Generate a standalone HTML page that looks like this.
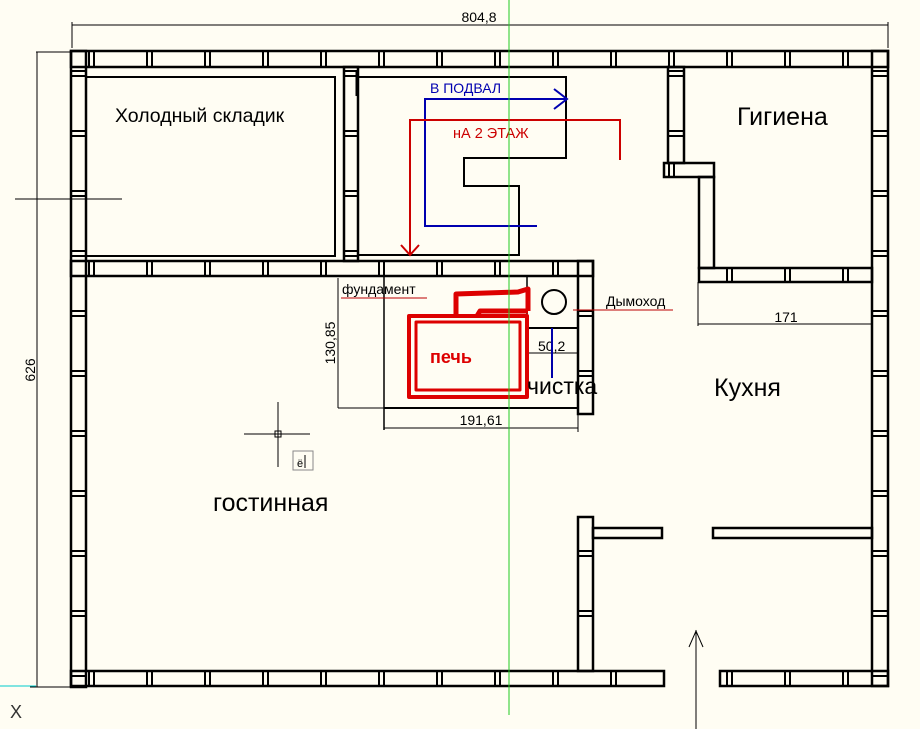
<!DOCTYPE html>
<html><head><meta charset="utf-8"><style>
html,body{margin:0;padding:0;background:#fffdf3;}
svg{display:block;}
text{font-family:"Liberation Sans",sans-serif;}
</style></head><body>
<svg width="920" height="729" viewBox="0 0 920 729" xmlns="http://www.w3.org/2000/svg">
<defs>
<pattern id="hp" patternUnits="userSpaceOnUse" x="30" y="0" width="58" height="800">
<line x1="1" y1="0" x2="1" y2="800" stroke="#000" stroke-width="2"/>
<line x1="6" y1="0" x2="6" y2="800" stroke="#000" stroke-width="2"/>
</pattern>
<pattern id="vp" patternUnits="userSpaceOnUse" x="0" y="10" width="900" height="60">
<line x1="0" y1="1" x2="900" y2="1" stroke="#000" stroke-width="2"/>
<line x1="0" y1="6" x2="900" y2="6" stroke="#000" stroke-width="2"/>
</pattern>
</defs>
<rect width="920" height="729" fill="#fffdf3"/>
<g fill="none" stroke="#000" stroke-width="1">
<line x1="72" y1="25" x2="888" y2="25"/>
<line x1="72" y1="22" x2="72" y2="48"/>
<line x1="888" y1="22" x2="888" y2="48"/>
<line x1="37" y1="52" x2="37" y2="687"/>
<line x1="36" y1="52" x2="72" y2="52"/>
<line x1="30" y1="687" x2="70" y2="687"/>
<line x1="15" y1="199" x2="122" y2="199"/>
</g>
<text x="479" y="22" font-size="14" text-anchor="middle">804,8</text>
<text x="0" y="0" font-size="14" text-anchor="middle" transform="translate(35,370) rotate(-90)">626</text>

<g stroke="#000" stroke-width="2.5">
<rect x="71" y="51" width="817" height="16" fill="url(#hp)"/>
<rect x="71" y="51" width="15" height="636" fill="url(#vp)"/>
<rect x="872" y="51" width="16" height="635" fill="url(#vp)"/>
<rect x="71" y="671" width="593" height="15" fill="url(#hp)"/>
<rect x="720" y="671" width="168" height="15" fill="url(#hp)"/>
<rect x="71" y="261" width="522" height="15" fill="url(#hp)"/>
<rect x="344" y="67" width="14" height="194" fill="url(#vp)"/>
<rect x="668" y="67" width="16" height="96" fill="url(#vp)"/>
<rect x="664" y="163" width="50" height="14" fill="url(#hp)"/>
<rect x="699" y="177" width="15" height="91" fill="none"/>
<rect x="699" y="268" width="173" height="14" fill="url(#hp)"/>
<rect x="578" y="261" width="15" height="153" fill="url(#vp)"/>
<rect x="578" y="517" width="15" height="154" fill="url(#vp)"/>
<rect x="593" y="528" width="69" height="10" fill="none"/>
<rect x="713" y="528" width="159" height="10" fill="none"/>
</g>
<g fill="none" stroke="#000" stroke-width="2">
<polyline points="87,77 335,77 335,256 87,256"/>
<polyline points="358,77 566,77 566,158 464,158 464,186 519,186 519,255 358,255"/>
<line x1="357" y1="70" x2="357" y2="96" stroke-width="3"/>
<line x1="384" y1="276" x2="384" y2="430" stroke-width="1.5"/>
<line x1="384" y1="408" x2="578" y2="408"/>
<line x1="527" y1="276" x2="527" y2="328" stroke-width="1.5"/>
<line x1="527" y1="328" x2="578" y2="328"/>
<circle cx="554" cy="302" r="12"/>
</g>
<g fill="none" stroke="#000" stroke-width="1">
<line x1="528" y1="353" x2="578" y2="353"/>
<line x1="384" y1="428" x2="578" y2="428"/>
<line x1="578" y1="414" x2="578" y2="432"/>
<line x1="338" y1="278" x2="338" y2="408"/>
<line x1="338" y1="408" x2="384" y2="408"/>
<line x1="698" y1="282" x2="698" y2="326"/>
<line x1="698" y1="324" x2="871" y2="324"/>
<line x1="244" y1="434" x2="310" y2="434"/>
<line x1="278" y1="402" x2="278" y2="467"/>
<rect x="275" y="431" width="6" height="6"/>
<rect x="293" y="451" width="20" height="19" stroke="#888"/>
<line x1="696" y1="729" x2="696" y2="630"/>
<polyline points="689,647 696,631 703,647"/>
</g>
<text x="297" y="467" font-size="11">ё</text>
<line x1="305" y1="455" x2="305" y2="468" stroke="#000" stroke-width="1"/>
<text x="0" y="0" font-size="14" text-anchor="middle" transform="translate(335,343) rotate(-90)">130,85</text>
<text x="481" y="425" font-size="14" text-anchor="middle">191,61</text>
<text x="786" y="322" font-size="14" text-anchor="middle">171</text>
<text x="538" y="351" font-size="14">50,2</text>
<text x="342" y="294" font-size="14">фундамент</text>
<line x1="341" y1="298" x2="427" y2="298" stroke="#b00" stroke-width="1"/>
<text x="606" y="306" font-size="14">Дымоход</text>
<line x1="573" y1="310" x2="673" y2="310" stroke="#b00" stroke-width="1"/>
<line x1="552" y1="328" x2="552" y2="378" stroke="#00a" stroke-width="2"/>

<g fill="none" stroke="#d00" stroke-linejoin="round">
<rect x="409" y="316" width="118" height="81" stroke-width="4"/>
<rect x="416" y="322" width="104" height="68" stroke-width="3"/>
<polyline points="456,316 456,294 518,292 528,289 528,311" stroke-width="5"/>
<polyline points="477,316 480,311 528,311" stroke-width="5"/>
</g>
<text x="430" y="363" font-size="18" font-weight="bold" fill="#d00">печь</text>

<g fill="none" stroke="#0000b0" stroke-width="2">
<polyline points="537,226 425,226 425,99 567,99"/>
<polyline points="554,89 567,99 554,109"/>
</g>
<text x="430" y="93" font-size="14" fill="#0000b0">В ПОДВАЛ</text>
<g fill="none" stroke="#c00" stroke-width="2">
<polyline points="620,160 620,120 410,120 410,254"/>
<polyline points="401,245 410,255 419,245"/>
</g>
<text x="453" y="138" font-size="14.5" fill="#c00">нА 2 ЭТАЖ</text>

<line x1="509" y1="0" x2="509" y2="715" stroke="#22cc22" stroke-width="1"/>
<line x1="0" y1="686" x2="36" y2="686" stroke="#00cccc" stroke-width="1"/>
<text x="10" y="718" font-size="18" fill="#333">X</text>

<text x="115" y="122" font-size="19.5">Холодный складик</text>
<text x="737" y="125" font-size="25">Гигиена</text>
<text x="714" y="396" font-size="25">Кухня</text>
<text x="527" y="394" font-size="23">чистка</text>
<text x="213" y="511" font-size="25">гостинная</text>
</svg>
</body></html>
